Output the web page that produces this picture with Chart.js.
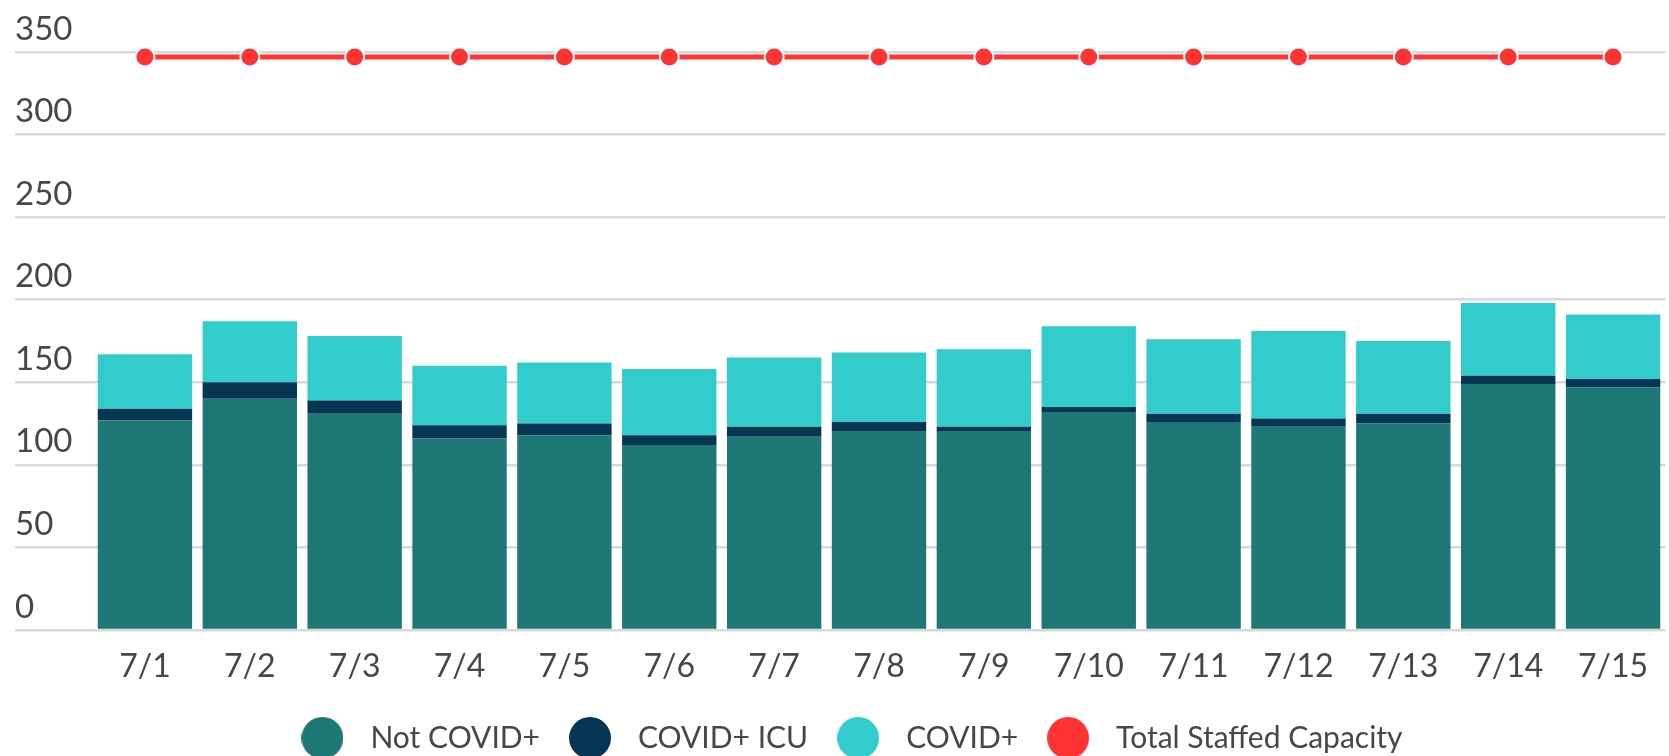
<!DOCTYPE html>
<html>
<head>
<meta charset="utf-8">
<script src="https://cdn.jsdelivr.net/npm/chart.js@4.4.1/dist/chart.umd.min.js"></script>
<style>
  html, body { margin: 0; padding: 0; background: #ffffff; overflow: hidden; }
  #wrap { position: relative; width: 1677px; height: 763px; }
</style>
</head>
<body>
<div id="wrap"><canvas id="c"></canvas></div>
<script>
const categories = ['7/1','7/2','7/3','7/4','7/5','7/6','7/7','7/8','7/9','7/10','7/11','7/12','7/13','7/14','7/15'];
const notCovid = [127, 140, 131, 116, 118, 112, 117, 120, 120, 132, 126, 123, 125, 149, 147];
const covidIcu = [7, 10, 8, 8, 7, 6, 6, 6, 3, 3, 5, 5, 6, 5, 5];
const covidPos = [33, 37, 39, 36, 37, 40, 42, 42, 47, 49, 45, 53, 44, 44, 39];
const staffedCapacity = [347, 347, 347, 347, 347, 347, 347, 347, 347, 347, 347, 347, 347, 347, 347];
const yTicks = [0, 50, 100, 150, 200, 250, 300, 350];

const TEXT = '#474747';
const FONT = 'Lato, "Open Sans", sans-serif';

function makeDot(color) {
  const cv = document.createElement('canvas');
  cv.width = 42; cv.height = 42;
  const g = cv.getContext('2d');
  g.fillStyle = color;
  g.beginPath();
  g.arc(21, 21, 21, 0, Math.PI * 2);
  g.fill();
  return cv;
}

new Chart(document.getElementById('c'), {
  data: {
    labels: categories,
    datasets: [
      { type: 'bar', label: 'Not COVID+', data: notCovid, backgroundColor: '#1C7775', stack: 'beds', barPercentage: 0.9, categoryPercentage: 1.0 },
      { type: 'bar', label: 'COVID+ ICU', data: covidIcu, backgroundColor: '#073654', stack: 'beds', barPercentage: 0.9, categoryPercentage: 1.0 },
      { type: 'bar', label: 'COVID+', data: covidPos, backgroundColor: '#33CCCC', stack: 'beds', barPercentage: 0.9, categoryPercentage: 1.0 },
      { type: 'line', label: 'Total Staffed Capacity', data: staffedCapacity, stack: 'capacity',
        borderColor: '#FF3333', backgroundColor: '#FF3333', borderWidth: 5, fill: false,
        pointRadius: 9.5, pointHoverRadius: 9.5, pointBackgroundColor: '#FF3333',
        pointBorderColor: '#ffffff', pointBorderWidth: 2, clip: false }
    ]
  },
  options: {
    responsive: true,
    maintainAspectRatio: false,
    animation: false,
    layout: { padding: { left: 15, top: 0, right: 0, bottom: 0 } },
    plugins: {
      tooltip: { enabled: false },
      legend: {
        position: 'bottom',
        labels: {
          usePointStyle: true,
          pointStyleWidth: 66,
          padding: 17,
          color: TEXT,
          font: { family: FONT, size: 30 },
          generateLabels(chart) {
            const items = Chart.defaults.plugins.legend.labels.generateLabels(chart);
            items.forEach(it => { it.pointStyle = makeDot(it.fillStyle); it.lineWidth = 0; });
            return items;
          }
        }
      }
    },
    scales: {
      x: {
        stacked: true,
        grid: { display: false },
        border: { display: false },
        ticks: { color: TEXT, font: { family: FONT, size: 32, lineHeight: 1 }, padding: 13, maxRotation: 0, autoSkip: false },
        afterFit(scale) { scale.height = 76; }
      },
      y: {
        stacked: true,
        min: 0,
        max: 350,
        afterBuildTicks(scale) { scale.ticks = yTicks.map(v => ({ value: v })); },
        grid: { color: '#D9D9D9', lineWidth: 2.5, drawTicks: true, tickLength: 77.5 },
        border: { display: false },
        ticks: {
          autoSkip: false,
          color: TEXT,
          crossAlign: 'far',
          padding: 0,
          font: { family: FONT, size: 33, lineHeight: 1.4 },
          callback: (v) => [String(v), '']
        },
        afterFit(scale) { scale.width = 77.5; scale.paddingTop = 52; }
      }
    }
  }
});
</script>
</body>
</html>
